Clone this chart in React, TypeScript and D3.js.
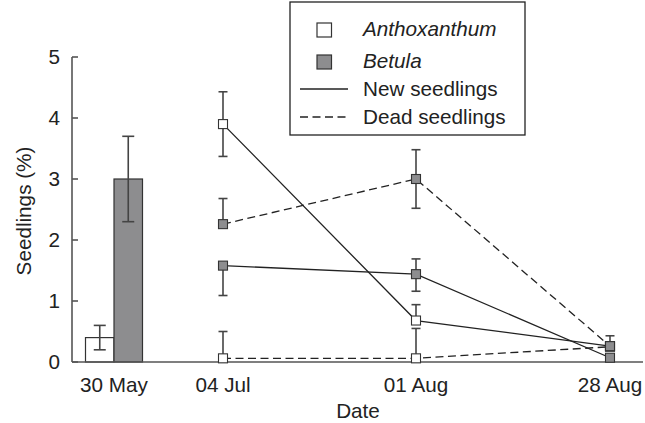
import React from 'react';
import * as d3 from 'd3';

// categories on the x axis
const dates = ['30 May', '04 Jul', '01 Aug', '28 Aug'];
const lineDates = ['04 Jul', '01 Aug', '28 Aug'];

// 30 May bars
const barSpecies = ['Anthoxanthum', 'Betula'];
const barMeans = [0.4, 3.0];
const barErrors = [0.2, 0.7];

// line series (values, upper error, lower error)
const anthNew = [3.9, 0.68, 0.26];
const anthNewUp = [0.53, 0.26, 0];
const anthNewDown = [0.53, 0, 0];

const anthDead = [0.06, 0.06, 0.25];
const anthDeadUp = [0.44, 0.49, 0];
const anthDeadDown = [0, 0, 0];

const betNew = [1.58, 1.44, 0.07];
const betNewUp = [0, 0.25, 0];
const betNewDown = [0.49, 0.28, 0];

const betDead = [2.26, 3.0, 0.26];
const betDeadUp = [0.42, 0.48, 0.17];
const betDeadDown = [0, 0.48, 0];

const yTicks = [0, 1, 2, 3, 4, 5];

interface Series {
  species: string;
  kind: 'new' | 'dead';
  values: number[];
  up: number[];
  down: number[];
}

const series: Series[] = [
  { species: 'Anthoxanthum', kind: 'new', values: anthNew, up: anthNewUp, down: anthNewDown },
  { species: 'Anthoxanthum', kind: 'dead', values: anthDead, up: anthDeadUp, down: anthDeadDown },
  { species: 'Betula', kind: 'new', values: betNew, up: betNewUp, down: betNewDown },
  { species: 'Betula', kind: 'dead', values: betDead, up: betDeadUp, down: betDeadDown },
];

const fillOf = (s: string) => (s === 'Betula' ? '#8d8d8f' : '#ffffff');
const font = '"Liberation Sans", Arial, Helvetica, sans-serif';
const ink = '#222';
const axisCol = '#555';
const errCol = '#444';
const dash = '8,4.5';
const fs = 20.7;

const App: React.FC = () => {
  const width = 645;
  const height = 423;

  const x = d3.scaleLinear()
    .domain(dates.map((_, i) => i))
    .range([114, 223, 416, 610]);
  const xd = (d: string) => x(dates.indexOf(d));

  const y = d3.scaleLinear().domain([0, 5]).range([362, 57]);

  const barW = 28.5;
  const sq = 9;

  const line = d3.line<number>()
    .x((_, i) => xd(lineDates[i]))
    .y(v => y(v));

  const errBar = (cx: number, v: number, up: number, down: number, cap: number, key: string) => {
    const top = y(v + up);
    const bot = y(Math.max(0, v - down));
    return (
      <g key={key} stroke={errCol} strokeWidth={1.6}>
        <line x1={cx} x2={cx} y1={top} y2={bot} />
        {up > 0 && <line x1={cx - cap / 2} x2={cx + cap / 2} y1={top} y2={top} />}
        {down > 0 && v - down > 0 && <line x1={cx - cap / 2} x2={cx + cap / 2} y1={bot} y2={bot} />}
      </g>
    );
  };

  // white markers first, grey ones on top
  const ordered = [...series].sort((a, b) => (a.species === b.species ? 0 : a.species === 'Betula' ? 1 : -1));

  return (
    <svg width={width} height={height} style={{ position: 'absolute', left: 0, top: 0 }}
      fontFamily={font} fill={ink}>
      <rect width={width} height={height} fill="#fff" />

      {/* bars */}
      {barSpecies.map((s, i) => {
        const x0 = xd(dates[0]) + (i === 0 ? -barW : 0);
        return (
          <rect key={s} x={x0} y={y(barMeans[i])} width={barW} height={y(0) - y(barMeans[i])}
            fill={fillOf(s)} stroke="#333" strokeWidth={1.2} />
        );
      })}
      {barSpecies.map((s, i) => errBar(xd(dates[0]) + (i === 0 ? -barW / 2 : barW / 2),
        barMeans[i], barErrors[i], barErrors[i], 12, 'be' + s))}

      {/* lines */}
      {series.map(s => (
        <path key={s.species + s.kind} d={line(s.values) ?? ''} fill="none" stroke={ink}
          strokeWidth={1.3} strokeDasharray={s.kind === 'dead' ? dash : undefined} />
      ))}

      {/* error bars */}
      {series.map(s => s.values.map((v, i) =>
        errBar(xd(lineDates[i]), v, s.up[i], s.down[i], 9, `e${s.species}${s.kind}${i}`)))}

      {/* axes */}
      <line x1={72} x2={643} y1={y(0)} y2={y(0)} stroke={axisCol} strokeWidth={1.6} />
      <line x1={72} x2={72} y1={y(5)} y2={y(0)} stroke={axisCol} strokeWidth={1.6} />
      {yTicks.map(t => (
        <g key={t}>
          <line x1={72} x2={78} y1={y(t)} y2={y(t)} stroke={axisCol} strokeWidth={1.6} />
          <text x={60} y={y(t)} dy="0.36em" textAnchor="end" fontSize={fs}>{t}</text>
        </g>
      ))}
      {dates.map(d => (
        <text key={d} x={xd(d)} y={392} textAnchor="middle" fontSize={fs}>{d}</text>
      ))}
      <text x={358} y={418} textAnchor="middle" fontSize={fs}>Date</text>
      <text transform={`translate(31,211) rotate(-90)`} textAnchor="middle" fontSize={fs}>Seedlings (%)</text>

      {/* squares */}
      {ordered.map(s => s.values.map((v, i) => (
        <rect key={`p${s.species}${s.kind}${i}`} x={xd(lineDates[i]) - sq / 2} y={y(v) - sq / 2}
          width={sq} height={sq} fill={fillOf(s.species)} stroke="#333" strokeWidth={1.1} />
      )))}

      {/* legend */}
      <rect x={290} y={2} width={235} height={133} fill="#fff" stroke={ink} strokeWidth={1.3} />
      {barSpecies.map((s, i) => (
        <g key={'lg' + s}>
          <rect x={317} y={23 + i * 32} width={14.5} height={14} fill={fillOf(s)} stroke="#333" strokeWidth={1.2} />
          <text x={363} y={36 + i * 32} fontSize={fs} fontStyle="italic">{s}</text>
        </g>
      ))}
      <line x1={300} x2={348} y1={89} y2={89} stroke={ink} strokeWidth={1.3} />
      <text x={363} y={96} fontSize={fs}>New seedlings</text>
      <line x1={300} x2={348} y1={117} y2={117} stroke={ink} strokeWidth={1.3} strokeDasharray={dash} />
      <text x={363} y={124} fontSize={fs}>Dead seedlings</text>
    </svg>
  );
};

export default App;
